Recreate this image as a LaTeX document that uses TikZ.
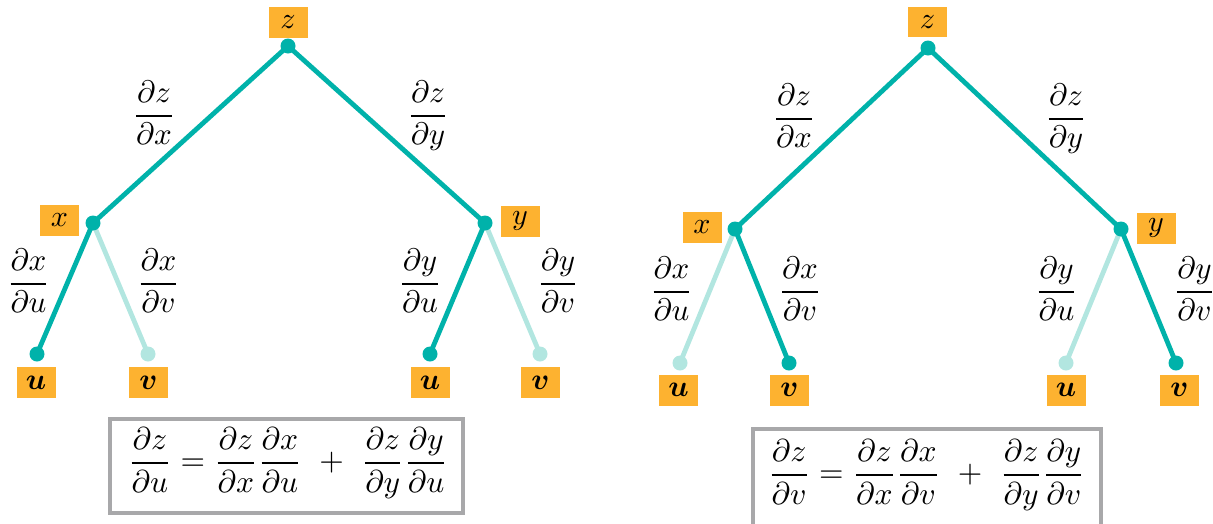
\documentclass[tikz,border=0pt]{standalone}
\usepackage{amsmath}
\definecolor{tealD}{RGB}{0,178,170}
\definecolor{tealL}{RGB}{178,230,224}
\definecolor{boxor}{RGB}{253,178,48}
\definecolor{frgray}{RGB}{168,168,170}
\tikzset{
  vbox/.style={fill=boxor, scale=3, minimum width=13pt, minimum height=10.33pt, inner sep=0pt},
  dotd/.style={circle, fill=tealD, minimum size=15pt, inner sep=0pt},
  dotl/.style={circle, fill=tealL, minimum size=15pt, inner sep=0pt},
  edged/.style={draw=tealD, line width=4.8pt},
  edgel/.style={draw=tealL, line width=4.8pt},
  lbl/.style={anchor=base, inner sep=0pt, scale=3.1},
  fbox/.style={draw=frgray, line width=4pt, inner sep=0pt},
  form/.style={anchor=base, inner sep=0pt, scale=3.15}
}
\begin{document}
\begin{tikzpicture}[x=1pt,y=-1pt]
\useasboundingbox (0,0) rectangle (1213,523);
% ---------- left tree ----------
\coordinate (Lz) at (288,46);
\coordinate (Lx) at (93,223);
\coordinate (Ly) at (485,223);
\coordinate (Lxu) at (37,354);
\coordinate (Lxv) at (148,354);
\coordinate (Lyu) at (430,354);
\coordinate (Lyv) at (540,354);
\draw[edgel] (Lx) -- (Lxv);
\draw[edgel] (Ly) -- (Lyv);
\draw[edged] (Lz) -- (Lx);
\draw[edged] (Lz) -- (Ly);
\draw[edged] (Lx) -- (Lxu);
\draw[edged] (Ly) -- (Lyu);
\node[dotd] (LzD) at (Lz) {};
\node[dotd] (LxD) at (Lx) {};
\node[dotd] (LyD) at (Ly) {};
\node[dotd] (LxuD) at (Lxu) {};
\node[dotl] (LxvD) at (Lxv) {};
\node[dotd] (LyuD) at (Lyu) {};
\node[dotl] (LyvD) at (Lyv) {};
\node[vbox] (LzB) at (288,22.5) {$z$};
\node[vbox] (LxB) at (59.5,220.5) {$x$};
\node[vbox] (LyB) at (520,221) {$y$};
\node[vbox] (LxuB) at (36,382.5) {$\boldsymbol{u}$};
\node[vbox] (LxvB) at (148.5,382.5) {$\boldsymbol{v}$};
\node[vbox] (LyuB) at (430,382.5) {$\boldsymbol{u}$};
\node[vbox] (LyvB) at (540.5,382.5) {$\boldsymbol{v}$};
\node[lbl] (Lzx) at (154,123.7) {$\dfrac{\partial z}{\partial x}$};
\node[lbl] (Lzy) at (428,123.7) {$\dfrac{\partial z}{\partial y}$};
\node[lbl] (Lxul) at (28.5,291.7) {$\dfrac{\partial x}{\partial u}$};
\node[lbl] (Lxvl) at (158.5,291.7) {$\dfrac{\partial x}{\partial v}$};
\node[lbl] (Lyul) at (420,291.7) {$\dfrac{\partial y}{\partial u}$};
\node[lbl] (Lyvl) at (558,291.7) {$\dfrac{\partial y}{\partial v}$};
\node[fbox, minimum width=353pt, minimum height=94pt] (LfB) at (286.5,466) {};
\node[form] (Lf) at (288,470.9) {$\dfrac{\partial z}{\partial u} = \dfrac{\partial z}{\partial x}\dfrac{\partial x}{\partial u} \mskip6mu+\mskip6mu \dfrac{\partial z}{\partial y}\dfrac{\partial y}{\partial u}$};
% ---------- right tree ----------
\coordinate (Rz) at (928,48);
\coordinate (Rx) at (735,229);
\coordinate (Ry) at (1121,229);
\coordinate (Rxu) at (680,363);
\coordinate (Rxv) at (789,363);
\coordinate (Ryu) at (1066,363);
\coordinate (Ryv) at (1176,363);
\draw[edgel] (Rx) -- (Rxu);
\draw[edgel] (Ry) -- (Ryu);
\draw[edged] (Rz) -- (Rx);
\draw[edged] (Rz) -- (Ry);
\draw[edged] (Rx) -- (Rxv);
\draw[edged] (Ry) -- (Ryv);
\node[dotd] (RzD) at (Rz) {};
\node[dotd] (RxD) at (Rx) {};
\node[dotd] (RyD) at (Ry) {};
\node[dotl] (RxuD) at (Rxu) {};
\node[dotd] (RxvD) at (Rxv) {};
\node[dotl] (RyuD) at (Ryu) {};
\node[dotd] (RyvD) at (Ryv) {};
\node[vbox] (RzB) at (927.5,22) {$z$};
\node[vbox] (RxB) at (702,227.5) {$x$};
\node[vbox] (RyB) at (1156,228) {$y$};
\node[vbox] (RxuB) at (678.5,390) {$\boldsymbol{u}$};
\node[vbox] (RxvB) at (789.5,390) {$\boldsymbol{v}$};
\node[vbox] (RyuB) at (1066,390) {$\boldsymbol{u}$};
\node[vbox] (RyvB) at (1179.5,390) {$\boldsymbol{v}$};
\node[lbl] (Rzx) at (794,126.7) {$\dfrac{\partial z}{\partial x}$};
\node[lbl] (Rzy) at (1066,126.7) {$\dfrac{\partial z}{\partial y}$};
\node[lbl] (Rxul) at (671.5,299.7) {$\dfrac{\partial x}{\partial u}$};
\node[lbl] (Rxvl) at (800,299.7) {$\dfrac{\partial x}{\partial v}$};
\node[lbl] (Ryul) at (1056.5,299.7) {$\dfrac{\partial y}{\partial u}$};
\node[lbl] (Ryvl) at (1194.5,299.7) {$\dfrac{\partial y}{\partial v}$};
\node[fbox, minimum width=348pt, minimum height=98pt] (RfB) at (927,478) {};
\node[form] (Rf) at (926.5,482.9) {$\dfrac{\partial z}{\partial v} = \dfrac{\partial z}{\partial x}\dfrac{\partial x}{\partial v} \mskip6mu+\mskip6mu \dfrac{\partial z}{\partial y}\dfrac{\partial y}{\partial v}$};
\end{tikzpicture}
\end{document}
